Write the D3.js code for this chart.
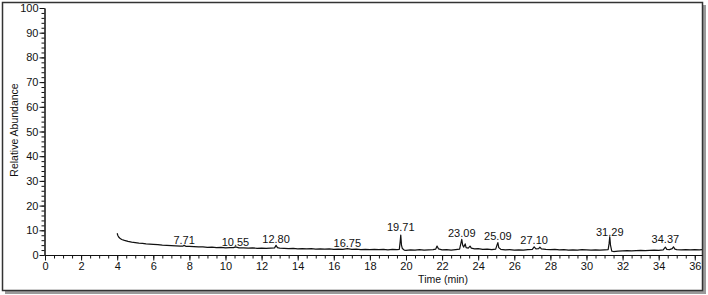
<!DOCTYPE html>
<html>
<head>
<meta charset="utf-8">
<script src="https://cdn.jsdelivr.net/npm/d3@7"></script>
<style>
  body { margin: 0; background: #fff; }
  text { font-family: "Liberation Sans Narrow", "Arial Narrow", "Liberation Sans", Arial, sans-serif; fill: #111; }
</style>
</head>
<body>
<svg id="chart" width="708" height="295"></svg>
<script>
// chromatogram trace, [time (min), relative abundance]
const trace = [
  [4.00,8.8],[4.03,8.0],[4.08,7.3],[4.15,6.8],[4.25,6.3],[4.40,5.9],[4.60,5.5],[4.80,5.2],
  [5.00,5.0],[5.20,4.8],[5.40,4.7],[5.60,4.5],[5.80,4.4],[6.00,4.3],[6.25,4.2],[6.50,4.0],
  [6.75,3.9],[7.00,3.8],[7.25,3.7],[7.50,3.6],[7.65,3.6],[7.71,3.9],[7.80,3.5],[8.00,3.5],
  [8.25,3.4],[8.50,3.3],[8.75,3.3],[9.00,3.1],[9.25,3.2],[9.50,3.0],[9.75,3.1],[10.00,2.9],
  [10.25,3.0],[10.45,3.0],[10.55,3.3],[10.75,2.9],[11.00,2.9],[11.25,2.8],[11.50,2.9],[11.75,2.7],
  [12.00,2.8],[12.25,2.7],[12.50,2.8],[12.72,2.9],[12.80,3.9],[12.88,3.0],[13.00,2.8],[13.25,2.7],
  [13.50,2.6],[13.75,2.7],[14.00,2.5],[14.25,2.6],[14.50,2.5],[14.75,2.6],[15.00,2.4],[15.25,2.5],
  [15.50,2.4],[15.75,2.5],[16.00,2.3],[16.25,2.4],[16.50,2.3],[16.75,2.6],[17.00,2.3],[17.25,2.4],
  [17.50,2.2],[17.75,2.3],[18.00,2.2],[18.25,2.3],[18.50,2.2],[18.75,2.3],[19.00,2.1],[19.25,2.3],
  [19.50,2.2],[19.63,2.3],[19.68,5.5],[19.71,8.1],[19.75,4.0],[19.80,2.6],[19.90,2.0],[20.00,1.9],
  [20.25,2.1],[20.50,2.0],[20.75,2.2],[21.00,2.0],[21.25,2.1],[21.50,2.2],[21.65,2.4],[21.72,3.6],
  [21.80,2.5],[22.00,2.1],[22.25,2.2],[22.50,2.0],[22.75,2.2],[22.97,2.4],[23.05,5.0],[23.09,6.3],
  [23.14,4.0],[23.20,3.2],[23.28,4.5],[23.33,3.0],[23.45,2.8],[23.55,3.6],[23.62,2.8],[23.80,2.5],
  [24.00,2.6],[24.25,2.3],[24.50,2.4],[24.75,2.2],[24.97,2.4],[25.05,4.2],[25.09,5.0],[25.14,3.0],
  [25.25,2.3],[25.50,2.1],[25.75,2.2],[26.00,2.0],[26.25,2.1],[26.50,2.0],[26.75,2.2],[27.00,2.3],
  [27.10,3.3],[27.20,2.5],[27.35,2.6],[27.42,3.2],[27.50,2.5],[27.75,2.3],[28.00,2.2],[28.25,2.3],
  [28.50,2.1],[28.75,2.2],[29.00,2.0],[29.25,2.1],[29.50,2.0],[29.75,2.2],[30.00,2.1],[30.25,2.0],
  [30.50,2.1],[30.75,2.0],[31.00,2.1],[31.20,2.2],[31.25,4.5],[31.29,7.4],[31.33,4.0],[31.40,1.6],
  [31.50,1.4],[31.75,1.6],[32.00,1.7],[32.25,1.8],[32.50,1.7],[32.75,1.8],[33.00,1.9],[33.25,1.8],
  [33.50,1.9],[33.75,2.0],[34.00,1.9],[34.25,2.1],[34.37,3.2],[34.45,2.3],[34.60,2.2],[34.75,2.6],
  [34.82,3.3],[34.90,2.4],[35.00,2.2],[35.25,2.1],[35.50,2.2],[35.75,2.1],[36.00,2.2],[36.25,2.1],
  [36.40,2.2]
];

// labelled peaks: retention time and the level the label sits at
const peakTimes = [7.71, 10.55, 12.80, 16.75, 19.71, 23.09, 25.09, 27.10, 31.29, 34.37];
const peakLabelLevel = [4.4, 3.8, 5.0, 3.4, 9.8, 7.4, 6.1, 4.3, 7.7, 4.7];

const xTickLabels = [0, 2, 4, 6, 8, 10, 12, 14, 16, 18, 20, 22, 24, 26, 28, 30, 32, 34, 36];
const yTickLabels = [0, 10, 20, 30, 40, 50, 60, 70, 80, 90, 100];

let svg = d3.select("#chart");

//#region frame
svg.append("rect")
    .attr("x", 5).attr("y", 5)
    .attr("width", 701).attr("height", 289)
    .attr("fill", "#9a9a9a");
svg.append("rect")
    .attr("x", 2.5).attr("y", 2.5)
    .attr("width", 700).attr("height", 288)
    .attr("fill", "#fff")
    .attr("stroke", "#333")
    .attr("stroke-width", 1.5);
//#endregion

//#region scales
let x = d3.scaleLinear().domain([0, 36.4]).range([45, 702]);
let y = d3.scaleLinear().domain([0, 100]).range([255, 8]);
//#endregion

//#region axes
let xMinor = d3.range(0, 36.4, 0.5);
let yMinor = d3.range(0, 100.1, 2);

svg.append("g")
    .attr("transform", "translate(0,255)")
    .call(d3.axisBottom(x).tickValues(xMinor).tickSize(3.5).tickFormat("").tickSizeOuter(0));
svg.append("g")
    .attr("class", "xMajor")
    .attr("transform", "translate(0,255)")
    .call(d3.axisBottom(x).tickValues(xTickLabels).tickSize(5.5).tickPadding(2).tickSizeOuter(0));

svg.append("g")
    .attr("transform", "translate(44.5,0)")
    .call(d3.axisLeft(y).tickValues(yMinor).tickSize(3).tickFormat("").tickSizeOuter(0));
svg.append("g")
    .attr("class", "yMajor")
    .attr("transform", "translate(44.5,0)")
    .call(d3.axisLeft(y).tickValues(yTickLabels).tickSize(5).tickPadding(1).tickSizeOuter(0));

svg.selectAll(".domain, .tick line").attr("stroke", "#111").attr("stroke-width", 1);
svg.selectAll(".xMajor text, .yMajor text")
    .attr("font-size", 11)
    .attr("fill", "#111");

svg.append("text")
    .attr("x", 443).attr("y", 283)
    .attr("text-anchor", "middle")
    .attr("font-size", 10.5)
    .text("Time (min)");
svg.append("text")
    .attr("transform", "translate(18,130) rotate(-90)")
    .attr("text-anchor", "middle")
    .attr("font-size", 10.5)
    .text("Relative Abundance");
//#endregion

//#region trace + peak labels
svg.append("path")
    .datum(trace)
    .attr("fill", "none")
    .attr("stroke", "#111")
    .attr("stroke-width", 1.2)
    .attr("stroke-linejoin", "round")
    .attr("d", d3.line().x(d => x(d[0])).y(d => y(d[1])));

svg.append("g").selectAll("text")
    .data(peakTimes)
    .join("text")
    .attr("x", d => x(d))
    .attr("y", (d, i) => y(peakLabelLevel[i]))
    .attr("text-anchor", "middle")
    .attr("font-size", 11)
    .text(d => d.toFixed(2));
//#endregion
</script>
</body>
</html>
